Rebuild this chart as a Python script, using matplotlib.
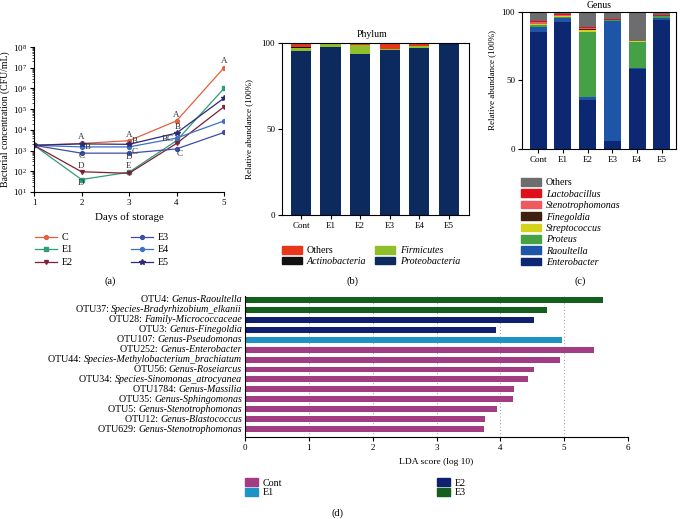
import numpy as np
import matplotlib
matplotlib.use("Agg")
from matplotlib import pyplot as plt
from matplotlib.patches import Patch
import matplotlib.transforms as mtransforms

plt.rcParams['font.family'] = ['Liberation Serif', 'DejaVu Serif']
plt.rcParams['mathtext.fontset'] = 'stix'
plt.rcParams['font.size'] = 6.5
plt.rcParams['axes.linewidth'] = 0.8

# ---- panel (a) data: bacterial concentration (CFU/mL)
days = [1, 2, 3, 4, 5]
conc_C = [1800, 2200, 3000, 27000, 1.0e7]
conc_E1 = [1800, 40, 90, 3000, 1.0e6]
conc_E2 = [1800, 95, 80, 2200, 1.3e5]
conc_E3 = [1800, 750, 750, 1200, 7.5e3]
conc_E4 = [1800, 1500, 1500, 4000, 2.7e4]
conc_E5 = [1800, 2100, 2000, 7000, 3.4e5]
# significance letters: day, height, letter
letter_day = [2, 2.13, 2, 2, 2, 3, 3.12, 3.12, 3, 3, 4, 4.03, 3.82, 4.06, 5]
letter_val = [4700, 1550, 520, 190, 27, 5600, 2800, 900, 470, 180, 52000, 14000, 3600, 650, 2.0e7]
letter_txt = ['A', 'B', 'C', 'D', 'D', 'A', 'B', 'C', 'D', 'E', 'A', 'B', 'BC', 'C', 'A']

# ---- panel (b) data: phylum relative abundance
groups = ['Cont', 'E1', 'E2', 'E3', 'E4', 'E5']
phy_proteo = [95.3, 97.7, 93.4, 95.8, 97.1, 99.3]
phy_firm = [1.5, 1.4, 5.0, 0.3, 0.8, 0.2]
phy_actino = [0.8, 0.1, 0.5, 0.5, 0.3, 0.1]
phy_others = [2.4, 0.8, 1.1, 3.4, 1.8, 0.4]

# ---- panel (c) data: genus relative abundance
gen_entero = [85.5, 92.7, 35.7, 5.8, 58.3, 94.0]
gen_raoul = [3.5, 2.8, 2.4, 87.4, 1.0, 1.3]
gen_proteus = [1.5, 1.0, 47.3, 0.8, 18.9, 1.5]
gen_strep = [0.3, 0.2, 1.2, 0.1, 0.1, 0.1]
gen_fine = [0.2, 0.2, 1.0, 0.1, 0.1, 0.1]
gen_steno = [1.5, 0.4, 0.3, 0.1, 0.1, 0.2]
gen_lacto = [0.5, 0.8, 1.0, 0.1, 0.1, 0.4]
gen_others = [7.0, 1.9, 11.1, 5.6, 21.4, 2.4]

# ---- panel (d) data: LEfSe LDA scores
otu_ids = ['OTU4', 'OTU37', 'OTU28', 'OTU3', 'OTU107', 'OTU252', 'OTU44',
           'OTU56', 'OTU34', 'OTU1784', 'OTU35', 'OTU5', 'OTU12', 'OTU629']
otu_taxa = ['Genus-Raoultella', 'Species-Bradyrhizobium_elkanii',
            'Family-Micrococcaceae', 'Genus-Finegoldia', 'Genus-Pseudomonas',
            'Genus-Enterobacter', 'Species-Methylobacterium_brachiatum',
            'Genus-Roseiarcus', 'Species-Sinomonas_atrocyanea', 'Genus-Massilia',
            'Genus-Sphingomonas', 'Genus-Stenotrophomonas', 'Genus-Blastococcus',
            'Genus-Stenotrophomonas']
otu_group = ['E3', 'E3', 'E2', 'E2', 'E1', 'Cont', 'Cont', 'Cont', 'Cont',
             'Cont', 'Cont', 'Cont', 'Cont', 'Cont']
lda_score = [5.61, 4.73, 4.53, 3.93, 4.97, 5.47, 4.94, 4.52, 4.43, 4.22,
             4.20, 3.95, 3.76, 3.75]

W, H = 680, 519
fig = plt.figure(figsize=(W / 100, H / 100), dpi=100)


def fx(px):
    return px / W


def fy(py):
    return 1 - py / H


def style_ax(ax):
    ax.tick_params(labelsize=6.5, length=3, width=0.8, pad=2)


def legend_col(handles, labels, x_px, y_px, italic=None, fs=7.2, ls=0.15, **kw):
    # one legend column, anchored at its top-left corner in pixels
    leg = fig.legend(handles, labels, loc='upper left',
                     bbox_to_anchor=(fx(x_px), fy(y_px)), frameon=False,
                     fontsize=fs, labelspacing=ls, handletextpad=0.5,
                     borderaxespad=0, borderpad=0, **kw)
    for t, it in zip(leg.get_texts(), italic or [False] * len(labels)):
        if it:
            t.set_style('italic')
    return leg


# ================= (a)
ax_a = fig.add_axes([fx(34), fy(192), fx(224 - 34), (192 - 47) / H])
series = [('C', conc_C, '#e5603b', 'o'), ('E1', conc_E1, '#2e9e78', 's'),
          ('E2', conc_E2, '#7f1f35', 'v'), ('E3', conc_E3, '#3d4fa3', 'o'),
          ('E4', conc_E4, '#3a72c4', 'o'), ('E5', conc_E5, '#2f2878', '*')]
handles_a = []
for name, vals, col, mk in series:
    ms = 4 if mk == '*' else 2.8
    h, = ax_a.plot(days, vals, color=col, marker=mk, ms=ms, lw=0.9)
    handles_a.append(h)
for d, v, t in zip(letter_day, letter_val, letter_txt):
    ax_a.text(d, v, t, ha='center', va='center', fontsize=6.5, color='#333333')
ax_a.set_yscale('log')
ax_a.set_ylim(10, 1e8)
ax_a.set_xlim(1, 5)
ax_a.set_xticks(days)
ax_a.set_yticks([10 ** k for k in range(1, 9)])
ax_a.spines['top'].set_visible(False)
ax_a.spines['right'].set_visible(False)
style_ax(ax_a)
ax_a.tick_params(which='minor', length=1.5, width=0.5)
ax_a.set_xlabel('Days of storage', fontsize=7.8, labelpad=4)
ax_a.set_ylabel('Bacterial concentration (CFU/mL)', fontsize=7, labelpad=2)
legend_col(handles_a[:3], ['C', 'E1', 'E2'], 35, 233, handlelength=2.2, ls=0.35)
legend_col(handles_a[3:], ['E3', 'E4', 'E5'], 131, 233, handlelength=2.2, ls=0.35)
fig.text(fx(110), fy(281), '(a)', ha='center', va='center', fontsize=7.5)

# ================= (b)
ax_b = fig.add_axes([fx(282), fy(215), fx(469 - 282), (215 - 42.7) / H])
x = np.arange(len(groups))
phy_cols = ['#0c2a5e', '#8fbf2a', '#111111', '#e8361a']
bottom = np.zeros(len(groups))
for vals, col in zip([phy_proteo, phy_firm, phy_actino, phy_others], phy_cols):
    ax_b.bar(x, vals, 0.68, bottom=bottom, color=col, lw=0)
    bottom += np.array(vals)
ax_b.set_xlim(-0.64, 5.68)
ax_b.set_ylim(0, 100)
ax_b.set_yticks([0, 50, 100])
ax_b.set_xticks(x)
ax_b.set_xticklabels(groups)
style_ax(ax_b)
ax_b.set_ylabel('Relative abundance (100%)', fontsize=6.5, labelpad=6)
ax_b.set_title('Phylum', fontsize=7, pad=4, x=0.48)
legend_col([Patch(color='#e8361a'), Patch(color='#111111')],
           ['Others', 'Actinobacteria'], 282, 246, italic=[False, True],
           handlelength=2.0, handleheight=0.8)
legend_col([Patch(color='#8fbf2a'), Patch(color='#0c2a5e')],
           ['Firmicutes', 'Proteobacteria'], 375, 246, italic=[True, True],
           handlelength=2.0, handleheight=0.8)
fig.text(fx(352), fy(281), '(b)', ha='center', va='center', fontsize=7.5)

# ================= (c)
ax_c = fig.add_axes([fx(522), fy(149), fx(676 - 522), (149 - 11.7) / H])
gen_cols = ['#0d2872', '#1f55a8', '#45a046', '#d4d21a', '#3d2010', '#f05a5e',
            '#e0101a', '#6d6d6f']
gen_names = ['Enterobacter', 'Raoultella', 'Proteus', 'Streptococcus',
             'Finegoldia', 'Stenotrophomonas', 'Lactobacillus', 'Others']
bottom = np.zeros(len(groups))
for vals, col in zip([gen_entero, gen_raoul, gen_proteus, gen_strep, gen_fine,
                      gen_steno, gen_lacto, gen_others], gen_cols):
    ax_c.bar(x, vals, 0.68, bottom=bottom, color=col, lw=0)
    bottom += np.array(vals)
ax_c.set_xlim(-0.65, 5.57)
ax_c.set_ylim(0, 100)
ax_c.set_yticks([0, 50, 100])
ax_c.set_xticks(x)
ax_c.set_xticklabels(groups)
style_ax(ax_c)
ax_c.set_ylabel('Relative abundance (100%)', fontsize=6.5, labelpad=4)
ax_c.set_title('Genus', fontsize=7, pad=3)
legend_col([Patch(color=c) for c in gen_cols[::-1]], gen_names[::-1], 521, 178,
           italic=[False] + [True] * 7, ls=0.21, handlelength=2.0,
           handleheight=0.8)
fig.text(fx(580), fy(281), '(c)', ha='center', va='center', fontsize=7.5)

# ================= (d)
ax_d = fig.add_axes([fx(245), fy(437), fx(628 - 245), (437 - 296) / H])
grp_cols = {'Cont': '#a23c83', 'E1': '#1f93c6', 'E2': '#102070', 'E3': '#145e1e'}
rows = np.arange(len(otu_ids))
ax_d.barh(rows, lda_score, 0.6, color=[grp_cols[g] for g in otu_group], lw=0)
ax_d.set_ylim(13.8, -0.4)
ax_d.set_xlim(0, 6)
ax_d.set_xticks(range(7))
ax_d.set_yticks([])
ax_d.xaxis.grid(True, ls=(0, (1, 3)), color='#777777', lw=0.6)
ax_d.set_axisbelow(True)
ax_d.spines['top'].set_visible(False)
ax_d.spines['right'].set_visible(False)
style_ax(ax_d)
ax_d.set_xlabel('LDA score (log 10)', fontsize=6.8, labelpad=4)

trans = mtransforms.blended_transform_factory(ax_d.transAxes, ax_d.transData)
ital = []
for i in rows:
    ital.append(ax_d.text(-0.008, i, otu_taxa[i], transform=trans, ha='right',
                          va='center', style='italic', fontsize=7.2))
fig.canvas.draw()
r = fig.canvas.get_renderer()
for i in rows:
    bb = ital[i].get_window_extent(r)
    xa = ax_d.transAxes.inverted().transform((bb.x0, bb.y0))[0]
    ax_d.text(xa, i, otu_ids[i] + ': ', transform=trans, ha='right',
              va='center', fontsize=7.2)

legend_col([Patch(color=grp_cols['Cont']), Patch(color=grp_cols['E1'])],
           ['Cont', 'E1'], 245, 478, ls=0.02, handlelength=1.3, handleheight=0.9)
legend_col([Patch(color=grp_cols['E2']), Patch(color=grp_cols['E3'])],
           ['E2', 'E3'], 437, 478, ls=0.02, handlelength=1.3, handleheight=0.9)
fig.text(fx(338), fy(513), '(d)', ha='center', va='center', fontsize=7.5)

fig.savefig('out.png', dpi=100)
